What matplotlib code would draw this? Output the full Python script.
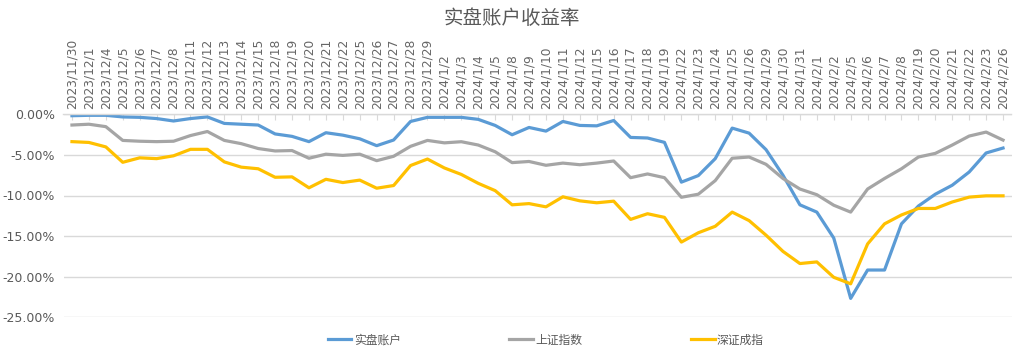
import matplotlib
matplotlib.use("Agg")
import matplotlib.pyplot as plt
from matplotlib.ticker import FuncFormatter

plt.rcParams['font.family'] = ['DejaVu Sans', 'Noto Sans CJK SC']

dates = ['2023/11/30', '2023/12/1', '2023/12/4', '2023/12/5', '2023/12/6', '2023/12/7',
         '2023/12/8', '2023/12/11', '2023/12/12', '2023/12/13', '2023/12/14', '2023/12/15',
         '2023/12/18', '2023/12/19', '2023/12/20', '2023/12/21', '2023/12/22', '2023/12/25',
         '2023/12/26', '2023/12/27', '2023/12/28', '2023/12/29', '2024/1/2', '2024/1/3',
         '2024/1/4', '2024/1/5', '2024/1/8', '2024/1/9', '2024/1/10', '2024/1/11',
         '2024/1/12', '2024/1/15', '2024/1/16', '2024/1/17', '2024/1/18', '2024/1/19',
         '2024/1/22', '2024/1/23', '2024/1/24', '2024/1/25', '2024/1/26', '2024/1/29',
         '2024/1/30', '2024/1/31', '2024/2/1', '2024/2/2', '2024/2/5', '2024/2/6',
         '2024/2/7', '2024/2/8', '2024/2/19', '2024/2/20', '2024/2/21', '2024/2/22',
         '2024/2/23', '2024/2/26']

# returns in percent
account = [-0.15, -0.1, -0.1, -0.3, -0.35, -0.5, -0.8, -0.5, -0.3, -1.1,
           -1.2, -1.3, -2.4, -2.7, -3.35, -2.25, -2.55, -3.0, -3.85, -3.15,
           -0.86, -0.35, -0.35, -0.35, -0.6, -1.35, -2.5, -1.6, -2.05, -0.86,
           -1.35, -1.4, -0.74, -2.83, -2.9, -3.44, -8.35, -7.54, -5.45, -1.68,
           -2.3, -4.34, -7.5, -11.15, -12.05, -15.25, -22.7, -19.2, -19.2, -13.5,
           -11.3, -9.84, -8.73, -7.1, -4.75, -4.14]
sse = [-1.3, -1.2, -1.5, -3.2, -3.3, -3.35, -3.3, -2.6, -2.1, -3.2,
       -3.6, -4.2, -4.5, -4.45, -5.4, -4.9, -5.05, -4.9, -5.7, -5.16,
       -3.93, -3.2, -3.5, -3.36, -3.77, -4.6, -5.94, -5.8, -6.27, -6.0,
       -6.2, -6.0, -5.74, -7.8, -7.34, -7.8, -10.22, -9.84, -8.16, -5.4,
       -5.25, -6.15, -7.9, -9.2, -9.9, -11.2, -12.05, -9.2, -7.9, -6.7,
       -5.25, -4.8, -3.77, -2.66, -2.17, -3.16]
szse = [-3.35, -3.45, -4.0, -5.9, -5.35, -5.45, -5.1, -4.3, -4.3, -5.85,
        -6.5, -6.7, -7.75, -7.7, -9.05, -8.0, -8.4, -8.1, -9.1, -8.77,
        -6.3, -5.5, -6.6, -7.4, -8.5, -9.4, -11.15, -11.0, -11.4, -10.16,
        -10.66, -10.9, -10.7, -12.95, -12.25, -12.7, -15.75, -14.6, -13.8, -12.05,
        -13.1, -14.9, -16.9, -18.4, -18.2, -20.1, -20.9, -15.98, -13.5, -12.4,
        -11.6, -11.6, -10.8, -10.2, -10.04, -10.04]

series = [('实盘账户', account, '#5b9bd5'),
          ('上证指数', sse, '#a5a5a5'),
          ('深证成指', szse, '#ffc000')]

fig = plt.figure(figsize=(10.24, 3.59), dpi=100)
ax = fig.add_axes([63.5 / 1024, 1 - 317 / 359, (1011.5 - 63.5) / 1024, (317 - 114.5) / 359])

x = list(range(len(dates)))
for name, vals, color in series:
    ax.plot(x, vals, color=color, linewidth=2.3, label=name, solid_joinstyle='round')

ax.set_xlim(-0.5, len(dates) - 0.5)
ax.set_ylim(-25, 0)
ax.set_yticks([0, -5, -10, -15, -20, -25])
ax.yaxis.set_major_formatter(FuncFormatter(lambda v, p: '%.2f%%' % v))
ax.grid(axis='y', color='#d9d9d9', linewidth=1)
ax.set_axisbelow(True)

ax.xaxis.tick_top()
ax.set_xticks(x)
ax.set_xticklabels(dates, rotation=90, fontsize=8.8, color='#666666')
ax.tick_params(axis='x', direction='in', length=4, color='#d9d9d9', pad=4)
ax.tick_params(axis='y', length=0, labelsize=9, labelcolor='#595959', pad=6)

for s in ['left', 'right', 'bottom']:
    ax.spines[s].set_visible(False)
ax.spines['top'].set_color('#d9d9d9')
ax.spines['top'].set_linewidth(1)

fig.text(0.5, 1 - 18 / 359, '实盘账户收益率', ha='center', va='center',
         fontsize=14, color='#595959', family=['Noto Sans CJK SC', 'DejaVu Sans'])

leg = fig.legend(loc='center', bbox_to_anchor=(0.533, 1 - 340 / 359), ncol=3, frameon=False,
                 handlelength=2.0, handletextpad=0.2, columnspacing=9.2,
                 prop={'family': ['Noto Sans CJK SC', 'DejaVu Sans'], 'size': 8.5})
for t in leg.get_texts():
    t.set_color('#595959')

fig.savefig('out.png', dpi=100)
